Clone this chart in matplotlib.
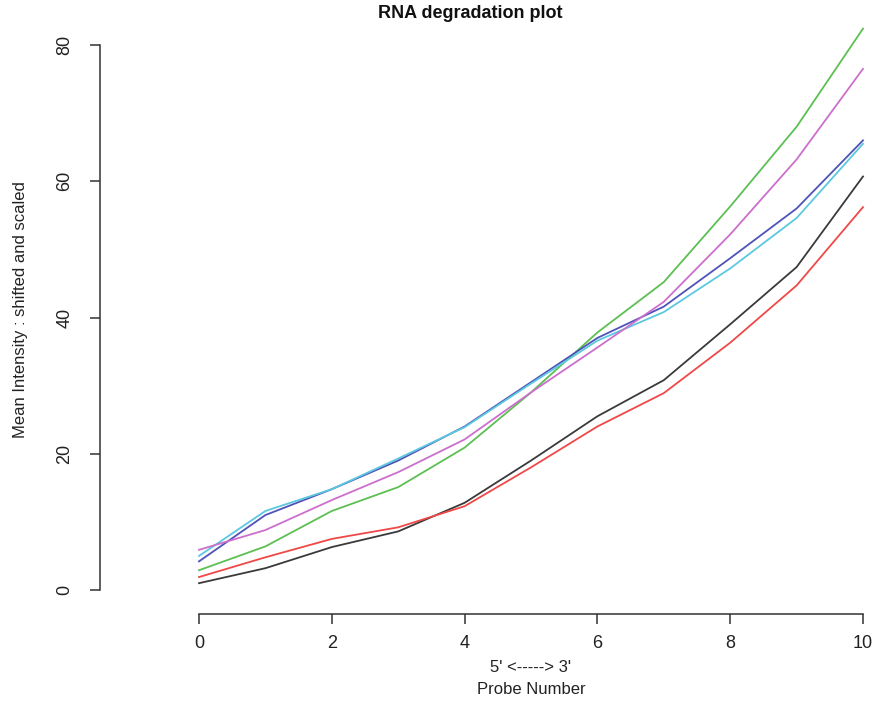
import numpy as np
import matplotlib
matplotlib.use('Agg')
import matplotlib.pyplot as plt

plt.rcParams['font.family'] = ['Liberation Sans', 'DejaVu Sans']

# probe positions and per-array mean intensities
probe = np.arange(0, 11)

black = [1.0, 3.2, 6.3, 8.6, 12.8, 19.0, 25.5, 30.8, 39.0, 47.4, 60.7]
red = [1.9, 4.8, 7.5, 9.2, 12.3, 18.0, 24.0, 28.9, 36.3, 44.7, 56.2]
green = [2.9, 6.4, 11.6, 15.1, 20.9, 29.0, 37.8, 45.2, 56.3, 68.0, 82.4]
blue = [4.2, 11.0, 14.8, 19.0, 24.0, 30.5, 37.0, 41.6, 48.7, 56.0, 66.0]
cyan = [5.0, 11.6, 14.8, 19.3, 23.9, 30.3, 36.6, 40.8, 47.2, 54.6, 65.5]
magenta = [5.9, 8.8, 13.2, 17.3, 22.1, 29.0, 35.6, 42.3, 52.2, 63.2, 76.5]

series = [black, red, green, blue, cyan, magenta]
colours = ['#3a3a3a', '#f04848', '#5cbf52', '#4f52b8', '#5cc8e0', '#cc6fcc']

xticks = [0, 2, 4, 6, 8, 10]
yticks = [0, 20, 40, 60, 80]

W, H = 877, 705
fig = plt.figure(figsize=(W / 100, H / 100), dpi=100)
ax = fig.add_axes([100 / W, 1 - 614 / H, 777 / W, 594 / H])

for vals, col in zip(series, colours):
    ax.plot(probe, vals, color=col, lw=1.3)

# data limits so 0..10 lands at px 199..863 and 0..80 at px 590..45
ax.set_xlim(-99 / 66.4, 10 + 14 / 66.4)
ax.set_ylim(-24 / 6.8125, 570 / 6.8125)

for s in ['top', 'right']:
    ax.spines[s].set_visible(False)
ax.spines['left'].set_bounds(0, 80)
ax.spines['bottom'].set_bounds(0, 10)
ax.spines['left'].set_color('#333333')
ax.spines['bottom'].set_color('#333333')
ax.spines['left'].set_linewidth(1.1)
ax.spines['bottom'].set_linewidth(1.1)

ax.set_xticks(xticks)
ax.set_yticks(yticks)
ax.tick_params(direction='out', length=7, width=1.1, color='#333333',
               labelsize=13, labelcolor='#222222', pad=8)
ax.tick_params(axis='y', pad=12)
for lab in ax.get_yticklabels():
    lab.set_rotation(90)
    lab.set_va('center')

fig.text(470 / W, 1 - 13 / H, 'RNA degradation plot', ha='center', va='center',
         fontsize=13, fontweight='bold', color='#111111')
fig.text(21 / W, 1 - 310 / H, 'Mean Intensity : shifted and scaled', rotation=90,
         ha='center', va='center', fontsize=12, color='#222222')
fig.text(531 / W, 1 - 667 / H, "5' <-----> 3'", ha='center', va='center',
         fontsize=12, color='#222222')
fig.text(531 / W, 1 - 690 / H, 'Probe Number', ha='center', va='center',
         fontsize=12, color='#222222')

fig.savefig('out.png', dpi=100)
